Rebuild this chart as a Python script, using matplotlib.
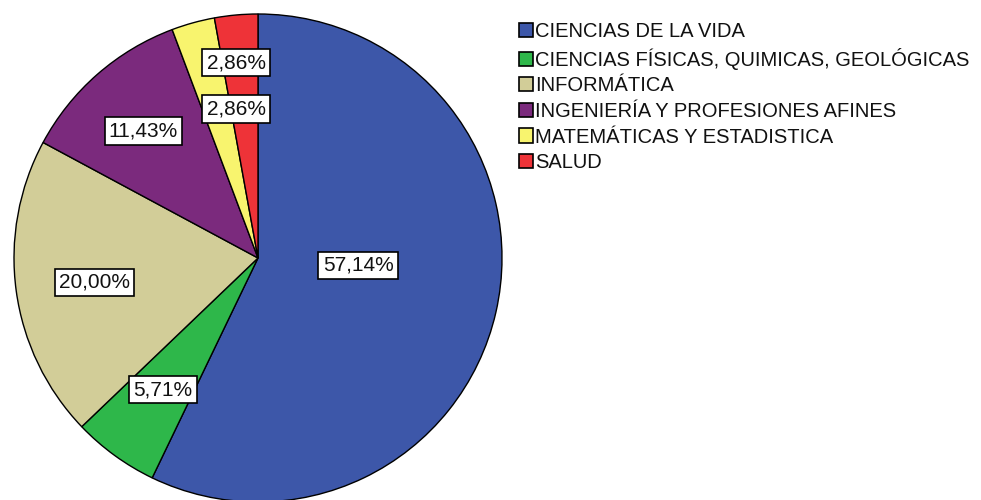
import matplotlib.pyplot as plt

# data
categorias = ["CIENCIAS DE LA VIDA",
              "CIENCIAS FÍSICAS, QUIMICAS, GEOLÓGICAS",
              "INFORMÁTICA",
              "INGENIERÍA Y PROFESIONES AFINES",
              "MATEMÁTICAS Y ESTADISTICA",
              "SALUD"]
porcentajes = [57.14, 5.71, 20.00, 11.43, 2.86, 2.86]
colores = ["#3D57A9", "#2EB74A", "#D2CD98", "#7B2A7D", "#F8F46E", "#EE3338"]

# label centres in pie units (radius = 1)
pos_etiquetas = [(0.41, -0.03), (-0.39, -0.54), (-0.67, -0.10),
                 (-0.47, 0.52), (-0.09, 0.61), (-0.09, 0.80)]

plt.rcParams["font.family"] = ["Liberation Sans", "DejaVu Sans"]

fig = plt.figure(figsize=(9.81, 5.0), dpi=100)
W, H = 981, 500
cx, cy, r = 258, 258, 244
ax = fig.add_axes([(cx - r) / W, (H - cy - r) / H, 2 * r / W, 2 * r / H])
ax.set_xlim(-1, 1)
ax.set_ylim(-1, 1)
ax.set_aspect("equal")
ax.axis("off")

wedges, _ = ax.pie(porcentajes, colors=colores, startangle=90, counterclock=False,
                   radius=1, center=(0, 0), frame=False,
                   wedgeprops=dict(edgecolor="black", linewidth=1.0))
ax.set_xlim(-1, 1)
ax.set_ylim(-1, 1)

for p, (x, y) in zip(porcentajes, pos_etiquetas):
    txt = ("%.2f%%" % p).replace(".", ",")
    ax.text(x, y, txt, ha="center", va="center", fontsize=15, color="#111111",
            bbox=dict(boxstyle="square,pad=0.2", fc="white", ec="black", lw=1.2))

# legend
handles = [plt.Rectangle((0, 0), 1, 1, fc=c, ec="black", lw=1.2) for c in colores]
fig.legend(handles, categorias, loc="upper left", bbox_to_anchor=(519 / W, 1 - 22 / H),
           frameon=False, fontsize=14.5, handlelength=0.7, handleheight=0.7,
           handletextpad=0.1, labelspacing=0.33, borderpad=0, borderaxespad=0,
           labelcolor="#111111")

plt.savefig("out.png", dpi=100)
